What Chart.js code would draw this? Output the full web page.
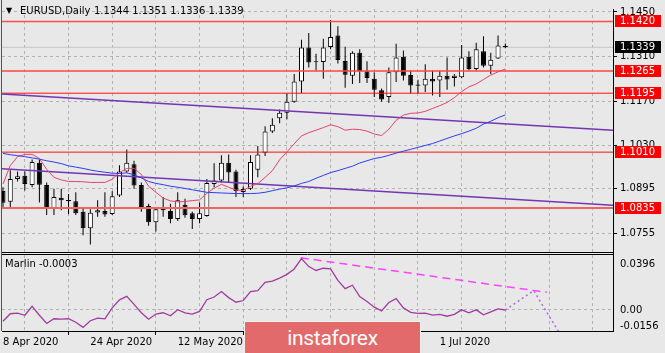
<!DOCTYPE html>
<html lang="en">
<head>
<meta charset="UTF-8">
<title>EURUSD, Daily</title>
<script src="https://cdn.jsdelivr.net/npm/chart.js@4.4.0/dist/chart.umd.min.js"></script>
<style>
    html, body { margin: 0; padding: 0; background: #e8e8e8; }
    .wrap { position: relative; width: 665px; height: 353px; overflow: hidden; }
    .logo {
        position: absolute; left: 244px; top: 321px; width: 177px; height: 34px;
        background: #e36a6a; border: 1px solid #f2f2f2; box-sizing: border-box;
        color: #fff; font: 21px Roboto, sans-serif; text-align: center; line-height: 33px;
        letter-spacing: -0.3px;
    }
</style>
</head>
<body>
<div class="wrap">
    <canvas id="chart" width="665" height="353"></canvas>
    <div class="logo">instaforex</div>
</div>
<script>
// daily bars, 8 Apr 2020 .. 14 Jul 2020
const open  = [1.0888,1.0854,1.0926,1.0936,1.0907,1.0977,1.0907,1.0835,1.0867,1.0860,
               1.0856,1.0823,1.0771,1.0821,1.0825,1.0816,1.0874,1.0949,1.0972,1.0907,
               1.0841,1.0790,1.0836,1.0825,1.0800,1.0845,1.0818,1.0800,1.0810,1.0910,
               1.0921,1.0977,1.0949,1.0885,1.0895,1.0955,1.1008,1.1075,1.1116,1.1134,
               1.1168,1.1232,1.1338,1.1295,1.1293,1.1340,1.1376,1.1296,1.1250,1.1322,
               1.1264,1.1240,1.1204,1.1183,1.1261,1.1309,1.1252,1.1222,1.1219,1.1240,
               1.1235,1.1250,1.1243,1.1245,1.1309,1.1271,1.1327,1.1281,1.1304,1.1344];
const high  = [1.0900,1.0953,1.0949,1.0949,1.0987,1.0987,1.0915,1.0895,1.0895,1.0879,
               1.0884,1.0838,1.0831,1.0859,1.0884,1.0887,1.0969,1.1018,1.0983,1.0915,
               1.0848,1.0838,1.0869,1.0848,1.0884,1.0864,1.0823,1.0852,1.0926,1.0975,
               1.1000,1.1003,1.0955,1.0903,1.1000,1.1029,1.1091,1.1116,1.1144,1.1194,
               1.1255,1.1363,1.1384,1.1319,1.1366,1.1425,1.1405,1.1341,1.1327,1.1333,
               1.1295,1.1261,1.1210,1.1276,1.1350,1.1329,1.1266,1.1237,1.1286,1.1266,
               1.1266,1.1307,1.1255,1.1346,1.1327,1.1353,1.1374,1.1322,1.1376,1.1351];
const low   = [1.0838,1.0838,1.0918,1.0890,1.0900,1.0852,1.0813,1.0813,1.0828,1.0815,
               1.0813,1.0749,1.0720,1.0807,1.0807,1.0813,1.0869,1.0946,1.0895,1.0823,
               1.0779,1.0761,1.0807,1.0787,1.0794,1.0804,1.0769,1.0787,1.0807,1.0900,
               1.0915,1.0915,1.0869,1.0869,1.0891,1.0931,1.0998,1.1070,1.1101,1.1113,
               1.1165,1.1196,1.1276,1.1266,1.1240,1.1333,1.1288,1.1212,1.1224,1.1227,
               1.1227,1.1183,1.1168,1.1165,1.1230,1.1235,1.1194,1.1194,1.1199,1.1188,
               1.1183,1.1206,1.1216,1.1242,1.1266,1.1266,1.1276,1.1255,1.1302,1.1336];
const close = [1.0851,1.0926,1.0934,1.0910,1.0979,1.0908,1.0835,1.0869,1.0859,1.0856,
               1.0818,1.0771,1.0820,1.0828,1.0814,1.0872,1.0949,1.0977,1.0905,1.0838,
               1.0790,1.0831,1.0828,1.0800,1.0859,1.0812,1.0800,1.0818,1.0913,1.0921,
               1.0977,1.0946,1.0887,1.0894,1.0979,1.1003,1.1075,1.1096,1.1134,1.1168,
               1.1232,1.1338,1.1291,1.1292,1.1338,1.1371,1.1299,1.1253,1.1322,1.1264,
               1.1243,1.1206,1.1175,1.1261,1.1307,1.1250,1.1219,1.1218,1.1240,1.1232,
               1.1250,1.1238,1.1250,1.1307,1.1271,1.1333,1.1281,1.1300,1.1345,1.1339];

// moving averages
const maFast = [1.0910,1.0968,1.0996,1.1003,1.1003,1.0990,1.0956,1.0931,1.0923,1.0918,
                1.0918,1.0917,1.0915,1.0915,1.0915,1.0925,1.0946,1.0959,1.0959,1.0940,
                1.0903,1.0884,1.0866,1.0857,1.0854,1.0855,1.0858,1.0860,1.0881,1.0897,
                1.0909,1.0900,1.0891,1.0890,1.0903,1.0911,1.0931,1.0952,1.0986,1.1011,
                1.1036,1.1061,1.1071,1.1079,1.1087,1.1096,1.1090,1.1079,1.1082,1.1081,
                1.1076,1.1067,1.1062,1.1082,1.1110,1.1126,1.1132,1.1133,1.1138,1.1147,
                1.1156,1.1166,1.1181,1.1200,1.1215,1.1224,1.1238,1.1252,1.1262,1.1271];
const maSlow = [1.1006,1.1002,1.0999,1.0996,1.0992,1.0988,1.0983,1.0979,1.0974,1.0967,
                1.0963,1.0959,1.0954,1.0950,1.0947,1.0944,1.0943,1.0945,1.0939,1.0929,
                1.0918,1.0912,1.0908,1.0903,1.0900,1.0896,1.0892,1.0888,1.0884,1.0883,
                1.0882,1.0881,1.0880,1.0880,1.0880,1.0881,1.0884,1.0889,1.0894,1.0898,
                1.0904,1.0912,1.0918,1.0928,1.0937,1.0946,1.0952,1.0959,1.0966,1.0976,
                1.0983,1.0990,1.0994,1.1000,1.1007,1.1013,1.1019,1.1025,1.1031,1.1037,
                1.1045,1.1053,1.1061,1.1068,1.1076,1.1085,1.1098,1.1107,1.1118,1.1127];

// Marlin oscillator
const marlin = [-0.0084,-0.0030,-0.0025,-0.0041,0.0023,-0.0041,-0.0100,-0.0066,-0.0069,-0.0066,
                -0.0091,-0.0128,-0.0080,-0.0061,-0.0067,0.0012,0.0070,0.0095,0.0037,-0.0023,
                -0.0069,-0.0032,-0.0023,-0.0045,-0.0001,-0.0023,-0.0033,-0.0013,0.0071,0.0090,
                0.0130,0.0086,0.0053,0.0065,0.0129,0.0136,0.0195,0.0205,0.0226,0.0253,
                0.0292,0.0366,0.0309,0.0281,0.0297,0.0292,0.0210,0.0150,0.0175,0.0093,
                0.0058,0.0017,-0.0009,0.0051,0.0079,0.0012,-0.0020,-0.0028,-0.0025,-0.0040,
                -0.0034,-0.0048,-0.0034,-0.0002,-0.0023,-0.0002,-0.0038,-0.0016,0.0005,-0.0003];
const marlinProjX = [69, 72.9, 77];
const marlinProjY = [-0.0003, 0.0136, -0.0218];
const marlinTrendX = [40.9, 74.7];
const marlinTrendY = [0.0372, 0.0124];

// drawn levels and trend lines
const levels = [1.1420, 1.1265, 1.1195, 1.1010, 1.0835];
const bidPrice = 1.1339;
const trendX = [-1, 85];
const upperTrendY = [1.1194, 1.1077];
const lowerTrendY = [1.0959, 1.0842];

// axes
const priceTicks = [1.1450, 1.1310, 1.1170, 1.1030, 1.0895, 1.0755];
const oscTicks = [0.0396, 0, -0.0156];
const tickDates = ['8 Apr 2020', '24 Apr 2020', '12 May 2020', '28 May 2020', '15 Jun 2020', '1 Jul 2020'];
const header = 'EURUSD,Daily';
const ohlcText = '1.1344 1.1351 1.1336 1.1339';
const oscName = 'Marlin -0.0003';

const FONT = {family: 'DejaVu Sans', size: 10};
Chart.defaults.font.family = FONT.family;
Chart.defaults.font.size = FONT.size;
Chart.defaults.color = '#000';

const pts = (xs, ys) => xs.map((x, i) => ({x: x, y: ys[i]}));
const line = (data, color, width, dash, axis, order) => ({
    type: 'line', data: data, borderColor: color, borderWidth: width, borderDash: dash || [],
    pointRadius: 0, tension: 0, fill: false, yAxisID: axis || 'y', order: order || 1
});

const idx = close.map((_, i) => i);
const levelStyles = [['#ff4c4c', 1.5], ['#ff4444', 1.5], ['#ff1010', 1], ['#ff1010', 1], ['#f06464', 2]];

const datasets = [
    line(pts(trendX, [bidPrice, bidPrice]), '#c6c6c6', 1, null, 'y', 8),
    {
        type: 'bar', label: 'wick', yAxisID: 'y', order: 6, grouped: false,
        data: idx.map(i => ({x: i, y: [low[i], high[i]]})),
        backgroundColor: '#000', barThickness: 1, inflateAmount: 0
    },
    {
        type: 'bar', label: 'body', yAxisID: 'y', order: 5, grouped: false,
        data: idx.map(i => ({x: i, y: [open[i], close[i]]})),
        backgroundColor: idx.map(i => close[i] >= open[i] ? '#fff' : '#000'),
        borderColor: '#000', borderWidth: 1, borderSkipped: false,
        barThickness: 5, minBarLength: 1, inflateAmount: 0
    },
    line(pts(idx, maSlow), '#2b3df2', 1),
    line(pts(idx, maFast), '#e2446c', 1),
    line(pts(trendX, upperTrendY), '#7436b0', 1.5),
    line(pts(trendX, lowerTrendY), '#7436b0', 1.5),
    line(pts(idx, marlin), '#a03ca0', 1.3, null, 'y2'),
    line(pts(marlinTrendX, marlinTrendY), '#ff44ff', 1.5, [8, 5], 'y2'),
    line(pts(marlinProjX, marlinProjY), '#b262e6', 1.5, [2, 3], 'y2')
];
levels.forEach((v, k) => {
    datasets.push(line(pts(trendX, [v, v]), levelStyles[k][0], levelStyles[k][1], null, 'y', 2));
});

const overlay = {
    id: 'overlay',
    afterDraw(chart) {
        const {ctx, chartArea: a} = chart;
        const y = chart.scales.y, y2 = chart.scales.y2;
        ctx.save();
        // panel frames
        ctx.strokeStyle = '#000';
        ctx.lineWidth = 1;
        ctx.beginPath();
        const sep = Math.round(y.bottom);
        ctx.moveTo(a.left, sep - 0.5); ctx.lineTo(a.right, sep - 0.5);
        ctx.moveTo(a.left, sep + 1.5); ctx.lineTo(a.right, sep + 1.5);
        ctx.stroke();
        ctx.strokeStyle = '#555';
        ctx.beginPath();
        ctx.moveTo(1.5, 0); ctx.lineTo(1.5, a.bottom);
        ctx.stroke();

        ctx.font = '10px "DejaVu Sans"';
        ctx.textBaseline = 'middle';
        ctx.textAlign = 'left';
        ctx.fillStyle = '#000';
        ctx.font = '8px "DejaVu Sans"';
        ctx.fillText('\u25BC', 6, 11);
        ctx.font = '10px "DejaVu Sans"';
        ctx.fillText(header, 20, 11);
        ctx.fillText(ohlcText, 94, 11);
        ctx.fillText(oscName, 5, y2.top + 11);

        // oscillator scale labels, kept inside the panel
        oscTicks.forEach(v => {
            let py = y2.getPixelForValue(v);
            py = Math.min(Math.max(py, y2.top + 10), y2.bottom - 6);
            ctx.fillText(v === 0 ? '0.00' : v.toFixed(4), a.right + 7, py + 1);
        });

        // price tags for levels
        const tag = (v, bg) => {
            const py = Math.round(y.getPixelForValue(v));
            ctx.fillStyle = bg;
            ctx.fillRect(a.right + 2, py - 6, 46, 12);
            ctx.fillStyle = '#fff';
            ctx.fillText(v.toFixed(4), a.right + 7, py);
        };
        levels.forEach(v => tag(v, '#ff0000'));
        tag(bidPrice, '#000');
        ctx.restore();
    }
};

new Chart(document.getElementById('chart'), {
    type: 'bar',
    data: {datasets: datasets},
    options: {
        responsive: false,
        animation: false,
        events: [],
        layout: {padding: {left: 2, top: 4, right: 0, bottom: 0}},
        plugins: {legend: {display: false}, tooltip: {enabled: false}},
        scales: {
            x: {
                type: 'linear', min: -0.137, max: 83.79, offset: false,
                afterBuildTicks: ax => {
                    ax.ticks = [];
                    for (let i = 0; i <= 78; i += 6) ax.ticks.push({value: i});
                },
                afterFit: ax => { ax.height = 22; },
                ticks: {
                    autoSkip: false, maxRotation: 0, align: 'start', padding: 1,
                    callback: v => (v % 12 === 0 && tickDates[v / 12]) ? tickDates[v / 12] : ''
                },
                grid: {
                    color: '#b2b2b2', lineWidth: 1, tickLength: 4,
                    tickColor: c => (c.tick && c.tick.value % 12 === 0 && c.tick.value <= 60) ? '#000' : 'rgba(0,0,0,0)'
                },
                border: {display: true, color: '#000', dash: [3, 3]}
            },
            y: {
                type: 'linear', position: 'right', stack: 'panes', stackWeight: 248,
                min: 1.06929, max: 1.14592,
                afterBuildTicks: ax => { ax.ticks = priceTicks.map(v => ({value: v})); },
                afterFit: ax => { ax.width = 52; },
                ticks: {padding: 3, callback: v => v.toFixed(4)},
                grid: {color: '#b2b2b2', tickColor: '#000', tickLength: 4},
                border: {display: true, color: '#000', dash: [3, 3]}
            },
            y2: {
                type: 'linear', position: 'right', stack: 'panes', stackWeight: 79,
                min: -0.0154, max: 0.0405,
                afterBuildTicks: ax => { ax.ticks = [{value: 0}]; },
                afterFit: ax => { ax.width = 52; },
                ticks: {display: false},
                grid: {color: '#b2b2b2', drawTicks: false},
                border: {display: true, color: '#000', dash: [3, 3]}
            }
        }
    },
    plugins: [overlay]
});
</script>
</body>
</html>
